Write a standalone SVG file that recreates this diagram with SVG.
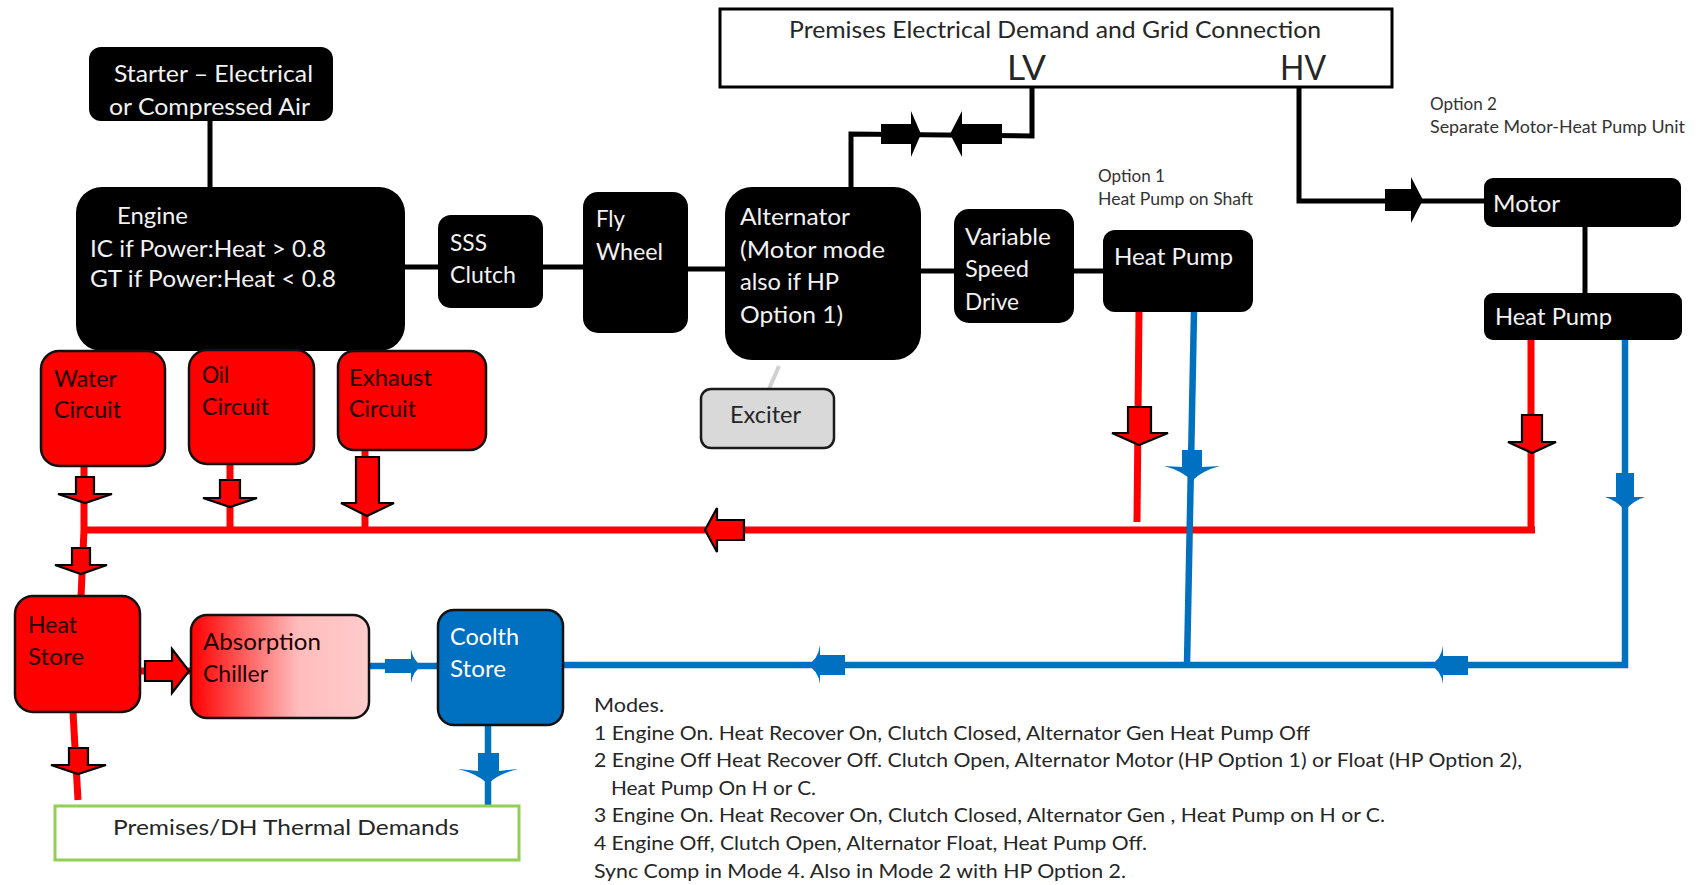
<svg xmlns="http://www.w3.org/2000/svg" width="1702" height="885" viewBox="0 0 1702 885" xml:space="preserve">
<defs>
<linearGradient id="chillGrad" x1="0" y1="0" x2="1" y2="0">
<stop offset="0" stop-color="#ff0000"/>
<stop offset="0.6" stop-color="#ffbcbc"/>
<stop offset="1" stop-color="#ffcccc"/>
</linearGradient>
<style>
text { font-family: Lato, "Open Sans", "Liberation Sans", sans-serif; }
.blk { fill: #000; }
.wt { fill: #f2f2f2; font-size: 22.5px; }
.rt { fill: #1a0000; font-size: 22.5px; }
.red { fill: #ff0000; stroke: #111; stroke-width: 2.5; }
.ln { fill: none; stroke: #000; stroke-width: 5; }
.rl { fill: none; stroke: #ff0000; stroke-width: 7; }
.bl { fill: none; stroke: #0070c0; stroke-width: 6.5; }
.ra { fill: #ff0000; stroke: #000; stroke-width: 2.2; stroke-linejoin: miter; }
.ba { fill: #0070c0; }
.ka { fill: #000; }
.md { fill: #262626; font-size: 18.5px; }
.op { fill: #333; font-size: 16.5px; }
</style>
</defs>
<rect width="1702" height="885" fill="#fff"/>

<g id="connectors">
<!-- mechanical / electrical -->
<line class="ln" x1="210" y1="120" x2="210" y2="188"/>
<line class="ln" x1="404" y1="267" x2="439" y2="267"/>
<line class="ln" x1="542" y1="267" x2="584" y2="267"/>
<line class="ln" x1="687" y1="269" x2="726" y2="269"/>
<line class="ln" x1="920" y1="271" x2="955" y2="271"/>
<line class="ln" x1="1073" y1="271" x2="1104" y2="271"/>
<polyline class="ln" points="851,188 851,134 1032,136 1032,86"/>
<polyline class="ln" points="1299,86 1299,201 1485,201"/>
<line class="ln" x1="1585" y1="226" x2="1585" y2="294"/>
<line x1="769" y1="389" x2="779" y2="366" stroke="#d0d0d0" stroke-width="4"/>
<!-- LV arrows -->
<polygon class="ka" points="881,124 911,124 911,111 921,134 911,157 911,144 881,144"/>
<polygon class="ka" points="1002,124 962,124 962,111 950,134 962,157 962,144 1002,144"/>
<!-- HV arrow -->
<polygon class="ka" points="1385,189 1411,189 1411,177 1423,200 1411,223 1411,211 1385,211"/>

<!-- heat (red) -->
<polyline class="rl" points="84,466 84,530 81,597"/>
<line class="rl" x1="230" y1="463" x2="230" y2="530"/>
<line class="rl" x1="365" y1="449" x2="365" y2="530"/>
<line class="rl" x1="84" y1="530" x2="1535" y2="530"/>
<line class="rl" x1="1531" y1="340" x2="1531" y2="533"/>
<line class="rl" x1="1139" y1="311" x2="1137" y2="522"/>
<line class="rl" x1="73" y1="712" x2="78" y2="800"/>
<line class="rl" x1="139" y1="671" x2="192" y2="671"/>
<polygon class="ra" points="76,477 94,477 94,494 112,494 85,503 58,494 76,494"/>
<polygon class="ra" points="220,480 240,480 240,498 257,498 230,507 203,498 220,498"/>
<polygon class="ra" points="356,457 379,457 379,503 394,503 367,516 341,503 356,503"/>
<polygon class="ra" points="72,548 90,548 90,565 107,565 81,574 55,565 72,565"/>
<polygon class="ra" points="69,748 88,748 88,765 106,765 78,774 51,765 69,765"/>
<polygon class="ra" points="1128,407 1151,407 1151,433 1168,433 1139,445 1112,433 1128,433"/>
<polygon class="ra" points="1522,415 1542,415 1542,442 1556,442 1532,453 1508,442 1522,442"/>
<polygon class="ra" points="744,520 717,520 717,508 705,530 717,552 717,540 744,540"/>
<polygon class="ra" points="145,661 172,661 172,649 189,671 172,693 172,681 145,681"/>

<!-- cooling (blue) -->
<line class="bl" x1="368" y1="666" x2="439" y2="666"/>
<line class="bl" x1="562" y1="665" x2="1628" y2="665"/>
<line class="bl" x1="1625" y1="340" x2="1625" y2="668"/>
<line class="bl" x1="1194" y1="311" x2="1187" y2="665"/>
<line class="bl" x1="488" y1="724" x2="488" y2="807"/>
<path class="ba" d="M385,659 H411 V649 Q413,661 422,666 Q413,671 411,683 V673 H385 Z"/>
<path class="ba" d="M478,753 H499 V771 L518,769 Q498,774 488,784 Q478,774 458,769 L478,771 Z"/>
<path class="ba" d="M1182,450 H1202 V467 L1220,466 Q1201,471 1192,481 Q1183,471 1164,466 L1182,467 Z"/>
<path class="ba" d="M1616,473 H1634 V497 L1645,497 Q1632,501 1625,511 Q1618,501 1605,497 L1616,497 Z"/>
<path class="ba" d="M845,655 H820 V645 Q818,660 807,665 Q818,670 820,684 V675 H845 Z"/>
<path class="ba" d="M1468,656 H1443 V646 Q1441,660 1430,665 Q1441,670 1443,684 V675 H1468 Z"/>
</g>

<g id="grid">
<rect x="720" y="9" width="672" height="78" fill="#fff" stroke="#000" stroke-width="3"/>
<text x="789" y="38" font-size="23" fill="#262626" textLength="532" lengthAdjust="spacingAndGlyphs">Premises  Electrical  Demand  and  Grid  Connection</text>
<text x="1007" y="80" font-size="35" fill="#262626" textLength="39" lengthAdjust="spacingAndGlyphs">LV</text>
<text x="1280" y="80" font-size="35" fill="#262626" textLength="46" lengthAdjust="spacingAndGlyphs">HV</text>
</g>

<g id="starter">
<rect class="blk" x="89" y="47" width="244" height="74" rx="12"/>
<text class="wt" x="114" y="82" textLength="199" lengthAdjust="spacingAndGlyphs">Starter – Electrical</text>
<text class="wt" x="109" y="115" textLength="201" lengthAdjust="spacingAndGlyphs">or Compressed  Air</text>
</g>

<g id="engine">
<rect class="blk" x="76" y="187" width="329" height="164" rx="26"/>
<text class="wt" x="117" y="224" textLength="71" lengthAdjust="spacingAndGlyphs">Engine</text>
<text class="wt" x="90" y="257" textLength="236" lengthAdjust="spacingAndGlyphs">IC if Power:Heat  &gt; 0.8</text>
<text class="wt" x="90" y="287" textLength="246" lengthAdjust="spacingAndGlyphs">GT if Power:Heat  &lt; 0.8</text>
</g>

<g id="clutch">
<rect class="blk" x="438" y="215" width="105" height="93" rx="13"/>
<text class="wt" x="450" y="251" textLength="37" lengthAdjust="spacingAndGlyphs">SSS</text>
<text class="wt" x="450" y="283" textLength="66" lengthAdjust="spacingAndGlyphs">Clutch</text>
</g>

<g id="flywheel">
<rect class="blk" x="583" y="192" width="105" height="141" rx="15"/>
<text class="wt" x="596" y="227" textLength="29" lengthAdjust="spacingAndGlyphs">Fly</text>
<text class="wt" x="596" y="260" textLength="67" lengthAdjust="spacingAndGlyphs">Wheel</text>
</g>

<g id="alternator">
<rect class="blk" x="725" y="187" width="196" height="173" rx="27"/>
<text class="wt" x="740" y="225" textLength="110" lengthAdjust="spacingAndGlyphs">Alternator</text>
<text class="wt" x="740" y="258" textLength="145" lengthAdjust="spacingAndGlyphs">(Motor mode</text>
<text class="wt" x="740" y="290" textLength="99" lengthAdjust="spacingAndGlyphs">also if HP</text>
<text class="wt" x="740" y="323" textLength="103" lengthAdjust="spacingAndGlyphs">Option 1)</text>
</g>

<g id="exciter">
<rect x="701" y="389" width="133" height="59" rx="10" fill="#d9d9d9" stroke="#1a1a1a" stroke-width="2.5"/>
<text x="730" y="423" font-size="23" fill="#262626" textLength="71" lengthAdjust="spacingAndGlyphs">Exciter</text>
</g>

<g id="vsd">
<rect class="blk" x="954" y="209" width="120" height="114" rx="15"/>
<text class="wt" x="965" y="245" textLength="86" lengthAdjust="spacingAndGlyphs">Variable</text>
<text class="wt" x="965" y="277" textLength="64" lengthAdjust="spacingAndGlyphs">Speed</text>
<text class="wt" x="965" y="310" textLength="54" lengthAdjust="spacingAndGlyphs">Drive</text>
</g>

<g id="heatpump1">
<rect class="blk" x="1103" y="230" width="150" height="82" rx="12"/>
<text class="wt" x="1114" y="265" textLength="119" lengthAdjust="spacingAndGlyphs">Heat Pump</text>
</g>

<g id="option1-label">
<text class="op" x="1098" y="182" textLength="67" lengthAdjust="spacingAndGlyphs">Option 1</text>
<text class="op" x="1098" y="205" textLength="155" lengthAdjust="spacingAndGlyphs">Heat Pump on Shaft</text>
</g>

<g id="option2-label">
<text class="op" x="1430" y="110" textLength="67" lengthAdjust="spacingAndGlyphs">Option 2</text>
<text class="op" x="1430" y="133" textLength="255" lengthAdjust="spacingAndGlyphs">Separate Motor-Heat Pump Unit</text>
</g>

<g id="motor">
<rect class="blk" x="1484" y="178" width="197" height="49" rx="9"/>
<text class="wt" x="1493" y="212" textLength="67" lengthAdjust="spacingAndGlyphs">Motor</text>
</g>

<g id="heatpump2">
<rect class="blk" x="1484" y="293" width="198" height="47" rx="9"/>
<text class="wt" x="1495" y="325" textLength="117" lengthAdjust="spacingAndGlyphs">Heat Pump</text>
</g>

<g id="water-circuit">
<rect class="red" x="41" y="351" width="124" height="115" rx="18"/>
<text class="rt" x="54" y="387" textLength="63" lengthAdjust="spacingAndGlyphs">Water</text>
<text class="rt" x="54" y="418" textLength="67" lengthAdjust="spacingAndGlyphs">Circuit</text>
</g>

<g id="oil-circuit">
<rect class="red" x="189" y="350" width="125" height="114" rx="18"/>
<text class="rt" x="202" y="383" textLength="27" lengthAdjust="spacingAndGlyphs">Oil</text>
<text class="rt" x="202" y="415" textLength="67" lengthAdjust="spacingAndGlyphs">Circuit</text>
</g>

<g id="exhaust-circuit">
<rect class="red" x="338" y="351" width="148" height="99" rx="16"/>
<text class="rt" x="349" y="386" textLength="83" lengthAdjust="spacingAndGlyphs">Exhaust</text>
<text class="rt" x="349" y="417" textLength="67" lengthAdjust="spacingAndGlyphs">Circuit</text>
</g>

<g id="heat-store">
<rect class="red" x="15" y="596" width="125" height="116" rx="18"/>
<text class="rt" x="28" y="633" textLength="49" lengthAdjust="spacingAndGlyphs">Heat</text>
<text class="rt" x="28" y="665" textLength="56" lengthAdjust="spacingAndGlyphs">Store</text>
</g>

<g id="absorption-chiller">
<rect x="191" y="615" width="178" height="103" rx="16" fill="url(#chillGrad)" stroke="#111" stroke-width="2.5"/>
<text class="rt" x="203" y="650" textLength="118" lengthAdjust="spacingAndGlyphs">Absorption</text>
<text class="rt" x="203" y="682" textLength="65" lengthAdjust="spacingAndGlyphs">Chiller</text>
</g>

<g id="coolth-store">
<rect x="438" y="610" width="125" height="115" rx="16" fill="#0070c0" stroke="#111" stroke-width="2.5"/>
<text x="450" y="645" font-size="22.5" fill="#fff" textLength="69" lengthAdjust="spacingAndGlyphs">Coolth</text>
<text x="450" y="677" font-size="22.5" fill="#fff" textLength="56" lengthAdjust="spacingAndGlyphs">Store</text>
</g>

<g id="thermal-demands">
<rect x="55" y="806" width="464" height="54" fill="#fff" stroke="#92d050" stroke-width="3"/>
<text x="113" y="835" font-size="22" fill="#262626" textLength="346" lengthAdjust="spacingAndGlyphs">Premises/DH  Thermal  Demands</text>
</g>

<g id="modes">
<text class="md" x="594" y="712" textLength="70" lengthAdjust="spacingAndGlyphs">Modes.</text>
<text class="md" x="594" y="740" textLength="716" lengthAdjust="spacingAndGlyphs">1 Engine On. Heat Recover On, Clutch Closed, Alternator Gen Heat Pump Off</text>
<text class="md" x="594" y="767" textLength="928" lengthAdjust="spacingAndGlyphs">2 Engine Off Heat Recover Off. Clutch Open, Alternator Motor (HP Option 1) or Float (HP Option 2),</text>
<text class="md" x="611" y="795" textLength="205" lengthAdjust="spacingAndGlyphs">Heat Pump On H or C.</text>
<text class="md" x="594" y="822" textLength="791" lengthAdjust="spacingAndGlyphs">3 Engine On. Heat Recover On, Clutch Closed, Alternator Gen , Heat Pump on H or C.</text>
<text class="md" x="594" y="850" textLength="553" lengthAdjust="spacingAndGlyphs">4 Engine Off, Clutch Open, Alternator Float, Heat Pump Off.</text>
<text class="md" x="594" y="878" textLength="532" lengthAdjust="spacingAndGlyphs">Sync Comp in Mode 4.  Also in Mode 2 with HP Option 2.</text>
</g>
</svg>
